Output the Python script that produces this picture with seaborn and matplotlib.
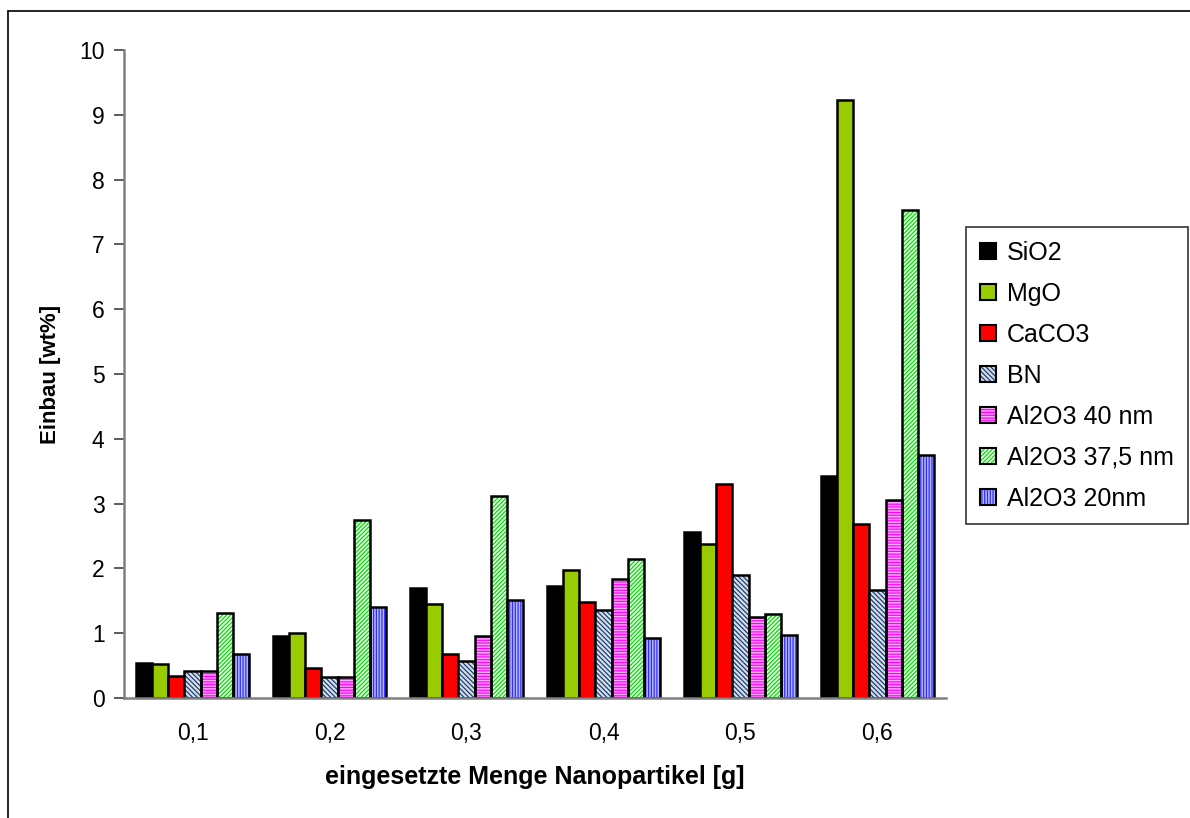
import numpy as np
import pandas as pd
import matplotlib
matplotlib.use("Agg")
import matplotlib.pyplot as plt
from matplotlib.patches import Rectangle
from matplotlib.lines import Line2D
from matplotlib.legend_handler import HandlerTuple
import seaborn as sns

# Amounts of nanoparticles used [g]
amounts = ["0,1", "0,2", "0,3", "0,4", "0,5", "0,6"]

# Incorporation [wt%] per material
sio2 = [0.54, 0.96, 1.70, 1.73, 2.56, 3.43]
mgo = [0.53, 1.00, 1.45, 1.97, 2.38, 9.23]
caco3 = [0.34, 0.46, 0.68, 1.48, 3.30, 2.68]
bn = [0.42, 0.33, 0.57, 1.36, 1.90, 1.67]
al2o3_40 = [0.42, 0.33, 0.95, 1.84, 1.25, 3.06]
al2o3_375 = [1.31, 2.75, 3.12, 2.15, 1.30, 7.53]
al2o3_20 = [0.68, 1.40, 1.52, 0.92, 0.97, 3.75]

series_names = ["SiO2", "MgO", "CaCO3", "BN", "Al2O3 40 nm", "Al2O3 37,5 nm", "Al2O3 20nm"]
series_values = [sio2, mgo, caco3, bn, al2o3_40, al2o3_375, al2o3_20]

# fill colour, hatch pattern, hatch colour
styles = {
    "SiO2": ("#000000", None, None),
    "MgO": ("#99CC00", None, None),
    "CaCO3": ("#FF0000", None, None),
    "BN": ("#D6E0EC", "\\\\\\\\\\\\\\", "#1F3F6F"),
    "Al2O3 40 nm": ("#FFA8FF", "------", "#FF00FF"),
    "Al2O3 37,5 nm": ("#EFFFEF", "////////", "#00E000"),
    "Al2O3 20nm": ("#B8B8FF", "||||||", "#2E2EFF"),
}

rows = []
for name, vals in zip(series_names, series_values):
    for a, v in zip(amounts, vals):
        rows.append({"Menge": a, "Material": name, "Einbau": v})
df = pd.DataFrame(rows)

sns.set_theme(style="white")
plt.rcParams["font.family"] = ["Liberation Sans", "DejaVu Sans"]
plt.rcParams["hatch.linewidth"] = 0.9

fig = plt.figure(figsize=(11.9, 8.18), dpi=100)
ax = fig.add_axes([124 / 1190, 1 - 698 / 818, (946 - 124) / 1190, (698 - 50) / 818])

palette = {n: styles[n][0] for n in series_names}
sns.barplot(data=df, x="Menge", y="Einbau", hue="Material", hue_order=series_names,
            order=amounts, palette=palette, width=0.83, saturation=1,
            edgecolor="black", linewidth=1.8, ax=ax, legend=False, errorbar=None)

# Hatching: bars of each hue come as consecutive containers
for container, name in zip(ax.containers, series_names):
    fill, hatch, hcol = styles[name]
    if hatch is None:
        continue
    for p in container.patches:
        p.set_hatch(hatch)
        p.set_edgecolor(hcol)
        p.set_linewidth(0)
        outline = Rectangle(p.get_xy(), p.get_width(), p.get_height(),
                            facecolor="none", edgecolor="black", linewidth=1.8,
                            zorder=p.get_zorder() + 0.1)
        ax.add_patch(outline)

ax.set_ylim(0, 10)
ax.set_xlim(-0.5, 5.5)
ax.set_yticks(np.arange(0, 11, 1))
ax.set_yticklabels([str(i) for i in range(11)])
ax.set_xticks(np.arange(-0.5, 6.0, 1.0), minor=True)
ax.tick_params(axis="x", which="major", length=0, pad=17, labelsize=16.5, labelcolor="black")
ax.tick_params(axis="x", which="minor", length=9, width=1.2, color="#606060", direction="out")
ax.tick_params(axis="y", which="major", length=7, width=1.2, color="#404040", direction="out",
               labelsize=16.5, pad=7, left=True, labelcolor="black")

for s in ["top", "right"]:
    ax.spines[s].set_visible(False)
for s in ["left", "bottom"]:
    ax.spines[s].set_color("#808080")
    ax.spines[s].set_linewidth(1.8)

ax.set_xlabel("eingesetzte Menge Nanopartikel [g]", fontsize=18, fontweight="bold", color="black")
ax.xaxis.set_label_coords(0.5, (698 - 777) / 648)
ax.xaxis.label.set_va("center")
ax.set_ylabel("Einbau [wt%]", fontsize=16, fontweight="bold", color="black")
ax.yaxis.set_label_coords((50 - 124) / 822, 0.5)
ax.yaxis.label.set_va("center")

# Legend: hatched entries get a black outline drawn over the hatch
handles = []
for name in series_names:
    fill, hatch, hcol = styles[name]
    if hatch is None:
        handles.append(Rectangle((0, 0), 1, 1, facecolor=fill, edgecolor="black", linewidth=1.5))
    else:
        handles.append((Rectangle((0, 0), 1, 1, facecolor=fill, edgecolor=hcol, hatch=hatch, linewidth=0),
                        Rectangle((0, 0), 1, 1, facecolor="none", edgecolor="black", linewidth=1.5)))
leg = fig.legend(handles, series_names, loc="upper left",
                 bbox_to_anchor=(966 / 1190, 1 - 227 / 818), fontsize=18,
                 frameon=True, fancybox=False, edgecolor="black",
                 handler_map={tuple: HandlerTuple(ndivide=1, pad=0)},
                 handlelength=0.65, handleheight=0.65, handletextpad=0.45,
                 labelspacing=0.68, borderpad=0.55, borderaxespad=0)
leg.get_frame().set_linewidth(1.2)
for t in leg.get_texts():
    t.set_color("black")

# Chart area border
fig.add_artist(Line2D([8 / 1190, 1.0], [1 - 11 / 818, 1 - 11 / 818], color="black", lw=1.2,
                      transform=fig.transFigure))
fig.add_artist(Line2D([8 / 1190, 8 / 1190], [0.0, 1 - 11 / 818], color="black", lw=1.2,
                      transform=fig.transFigure))

fig.savefig("out.png", dpi=100, facecolor="white")
